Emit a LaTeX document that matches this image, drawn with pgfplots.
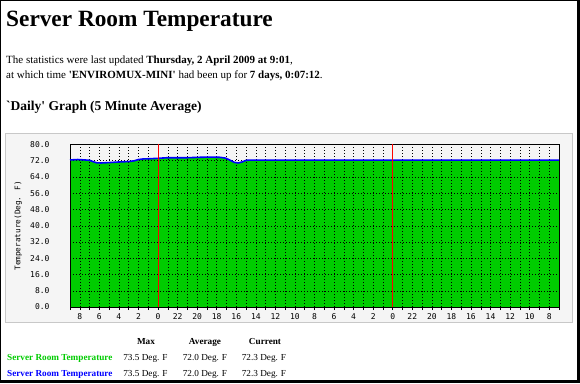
\documentclass[border=0pt]{standalone}
\usepackage{fontspec}
\setmainfont{Liberation Serif}[Ligatures=TeXOff]
\newfontfamily\mrtgfont{DejaVu Sans Mono}
\usepackage{pgfplots}
\usepackage{pgfplotstable}
\pgfplotsset{compat=1.18}
\definecolor{mgreen}{HTML}{00CC00}
\definecolor{mblue}{HTML}{0000FF}
\definecolor{mred}{HTML}{FF0000}
\definecolor{panelbg}{HTML}{F5F5F5}
\definecolor{panelbd}{HTML}{C8C8C8}

% hours ago (0 = now, 9:01) vs temperature (Deg. F)
\pgfplotstableread{
h T
0.0 72.4
0.8 72.6
1.5 72.4
2.0 72.2
2.4 71.5
2.7 71.0
3.2 70.9
4.0 71.1
5.0 71.4
6.0 71.6
6.6 72.0
7.0 72.6
7.5 72.9
8.2 73.0
9.0 73.2
10.0 73.5
12.0 73.5
13.3 73.7
14.3 73.8
15.3 73.7
15.9 73.3
16.4 72.2
16.8 71.2
17.2 70.9
17.6 71.4
18.0 72.2
18.4 72.3
50.0 72.3
}\tempdata

\begin{document}
\begin{tikzpicture}
\fill[black] (0pt,0pt) rectangle (580pt,383pt);
\fill[white] (1pt,3pt) rectangle (577pt,382pt);
\draw[panelbd, fill=panelbg, line width=1pt] (5.5pt,60.5pt) rectangle (572.5pt,249.5pt);

\node[anchor=base west, inner sep=0, font=\fontsize{23.3}{28}\selectfont\bfseries] at (6pt,356pt) {Server Room Temperature};
\node[anchor=base west, inner sep=0, font=\fontsize{11}{13}\selectfont] at (6pt,319pt) {The statistics were last updated \textbf{Thursday, 2 April 2009 at 9:01},};
\node[anchor=base west, inner sep=0, font=\fontsize{11}{13}\selectfont] at (6pt,304pt) {at which time \textbf{'ENVIROMUX-MINI'} had been up for \textbf{7 days, 0:07:12}.};
\node[anchor=base west, inner sep=0, font=\fontsize{13.5}{16}\selectfont\bfseries] at (6pt,272pt) {`Daily' Graph (5 Minute Average)};

\begin{axis}[
  set layers, axis on top,
  at={(70pt,76pt)}, anchor=south west,
  scale only axis, width=489pt, height=162.5pt,
  xmin=0, xmax=50, ymin=0, ymax=80,
  xtick={1,3,...,49},
  xticklabels={8,6,4,2,0,22,20,18,16,14,12,10,8,6,4,2,0,22,20,18,16,14,12,10,8},
  minor xtick={0,2,...,50},
  ytick={0,8,...,80},
  yticklabels={0.0,8.0,16.0,24.0,32.0,40.0,48.0,56.0,64.0,72.0,80.0},
  grid=both,
  major grid style={black, dash pattern=on 1pt off 2pt, line width=0.5pt},
  minor grid style={black, dash pattern=on 1pt off 2pt, line width=0.5pt},
  axis line style={black, line width=0.8pt},
  tick align=outside, xtick pos=bottom, ytick pos=left,
  major tick length=3pt, minor tick length=3pt,
  x tick style={black, line width=0.5pt},
  y tick style={draw=none},
  tick label style={font=\mrtgfont\fontsize{8}{9}\selectfont},
  xticklabel style={yshift=-0.5pt},
  yticklabel style={anchor=east, xshift=-14pt},
  ylabel={Temperature(Deg. F)},
  ylabel style={font=\mrtgfont\fontsize{7.7}{8}\selectfont, at={(axis description cs:-0.106,0.5)}, anchor=center},
]
\addplot[draw=none, fill=mgreen] table {\tempdata} \closedcycle;
\addplot[mblue, line width=1.6pt, on layer=axis foreground] table {\tempdata};
\addplot[mred, line width=1pt, on layer=axis foreground] coordinates {(9,0) (9,80)};
\addplot[mred, line width=1pt, on layer=axis foreground] coordinates {(33,0) (33,80)};
\fill[mred] (axis cs:0,0) ++(-4pt,0pt) -- ++(4pt,2.5pt) -- ++(0pt,-5pt) -- cycle;
\end{axis}

\node[anchor=base, inner sep=0, font=\fontsize{9.2}{11}\selectfont\bfseries] at (146pt,39pt) {Max};
\node[anchor=base, inner sep=0, font=\fontsize{9.2}{11}\selectfont\bfseries] at (205pt,39pt) {Average};
\node[anchor=base, inner sep=0, font=\fontsize{9.2}{11}\selectfont\bfseries] at (265pt,39pt) {Current};

\node[anchor=base west, inner sep=0, text=mgreen, font=\fontsize{9.2}{11}\selectfont\bfseries] at (7pt,23pt) {Server Room Temperature};
\node[anchor=base, inner sep=0, font=\fontsize{9.2}{11}\selectfont] at (145.5pt,23pt) {73.5 Deg. F};
\node[anchor=base, inner sep=0, font=\fontsize{9.2}{11}\selectfont] at (205pt,23pt) {72.0 Deg. F};
\node[anchor=base, inner sep=0, font=\fontsize{9.2}{11}\selectfont] at (264pt,23pt) {72.3 Deg. F};

\node[anchor=base west, inner sep=0, text=mblue, font=\fontsize{9.2}{11}\selectfont\bfseries] at (7pt,7pt) {Server Room Temperature};
\node[anchor=base, inner sep=0, font=\fontsize{9.2}{11}\selectfont] at (145.5pt,7pt) {73.5 Deg. F};
\node[anchor=base, inner sep=0, font=\fontsize{9.2}{11}\selectfont] at (205pt,7pt) {72.0 Deg. F};
\node[anchor=base, inner sep=0, font=\fontsize{9.2}{11}\selectfont] at (264pt,7pt) {72.3 Deg. F};
\end{tikzpicture}
\end{document}
